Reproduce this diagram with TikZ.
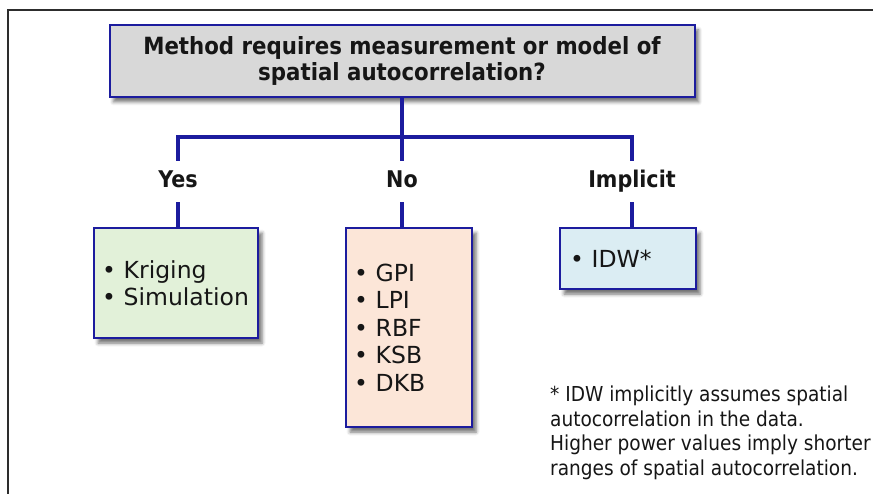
\documentclass[tikz,border=0pt]{standalone}
\usepackage{fontspec}
\setmainfont{DejaVu Sans}
\newfontfamily\condfont{DejaVu Sans Condensed}
\usetikzlibrary{shadows.blur}

\definecolor{linkblue}{RGB}{28,28,158}
\definecolor{qgray}{RGB}{216,216,216}
\definecolor{yesfill}{RGB}{226,241,217}
\definecolor{nofill}{RGB}{252,230,216}
\definecolor{implfill}{RGB}{219,237,243}
\definecolor{ink}{RGB}{22,22,22}
\definecolor{framegray}{RGB}{45,45,45}

\tikzset{
  boxshadow/.style={blur shadow={shadow xshift=4pt, shadow yshift=-5pt,
      shadow blur radius=3.5pt, shadow opacity=55}},
  qbox/.style={draw=linkblue, line width=2pt, fill=qgray, boxshadow,
      minimum width=585pt, minimum height=72pt, inner sep=0pt, align=center,
      text=ink, font=\condfont\bfseries\fontsize{23.7}{26}\selectfont},
  listbox/.style={draw=linkblue, line width=2pt, boxshadow, anchor=north west,
      inner xsep=8pt, inner ysep=0pt, align=left, text=ink,
      font=\fontsize{23.5}{27.5}\selectfont},
  branchlbl/.style={inner sep=0pt, text height=17pt, text depth=4pt,
      minimum height=41pt, text=ink,
      font=\condfont\bfseries\fontsize{23}{26}\selectfont},
  link/.style={draw=linkblue, line width=3.2pt},
  note/.style={inner sep=0pt, anchor=north west, align=left, text=ink,
      font=\condfont\fontsize{20.6}{24.5}\selectfont},
}

\begin{document}
\begin{tikzpicture}[x=1pt, y=-1pt]
  \useasboundingbox (0,0) rectangle (873,494);

  % page frame along the left and top edges
  \draw[framegray, line width=2.6pt] (8,494) -- (8,10) -- (873,10);

  % question
  \node[qbox] (title) at (402,61)
    {Method requires measurement or model of\\spatial autocorrelation?};

  % branch labels
  \coordinate (split) at (402,137);
  \node[branchlbl] (yeslbl)  at (178,181.5) {Yes};
  \node[branchlbl] (nolbl)   at (402,181.5) {No};
  \node[branchlbl] (impllbl) at (632,181.5) {Implicit};

  % method boxes
  \node[listbox, fill=yesfill, text width=148pt, minimum height=110pt]
    (yesbox) at (93,227) {\textbullet~Kriging\\\textbullet~Simulation};
  \node[listbox, fill=nofill, text width=110pt, minimum height=199pt]
    (nobox) at (345,227)
    {\textbullet~GPI\\\textbullet~LPI\\\textbullet~RBF\\\textbullet~KSB\\\textbullet~DKB};
  \node[listbox, fill=implfill, inner xsep=10pt, text width=116pt, minimum height=61pt]
    (implbox) at (559,227) {\textbullet~IDW*};

  % connectors
  \draw[link] (title.south) -- (split);
  \draw[link] (yeslbl.north) |- (split) -| (impllbl.north);
  \draw[link] (split) -- (nolbl.north);
  \draw[link] (yeslbl.south) -- (yeslbl.south |- yesbox.north);
  \draw[link] (nolbl.south) -- (nolbl.south |- nobox.north);
  \draw[link] (impllbl.south) -- (impllbl.south |- implbox.north);

  % footnote
  \node[note] (footnote) at (550,386)
    {* IDW implicitly assumes spatial\\autocorrelation in the data.\\Higher power values imply shorter\\ranges of spatial autocorrelation.};
\end{tikzpicture}
\end{document}
